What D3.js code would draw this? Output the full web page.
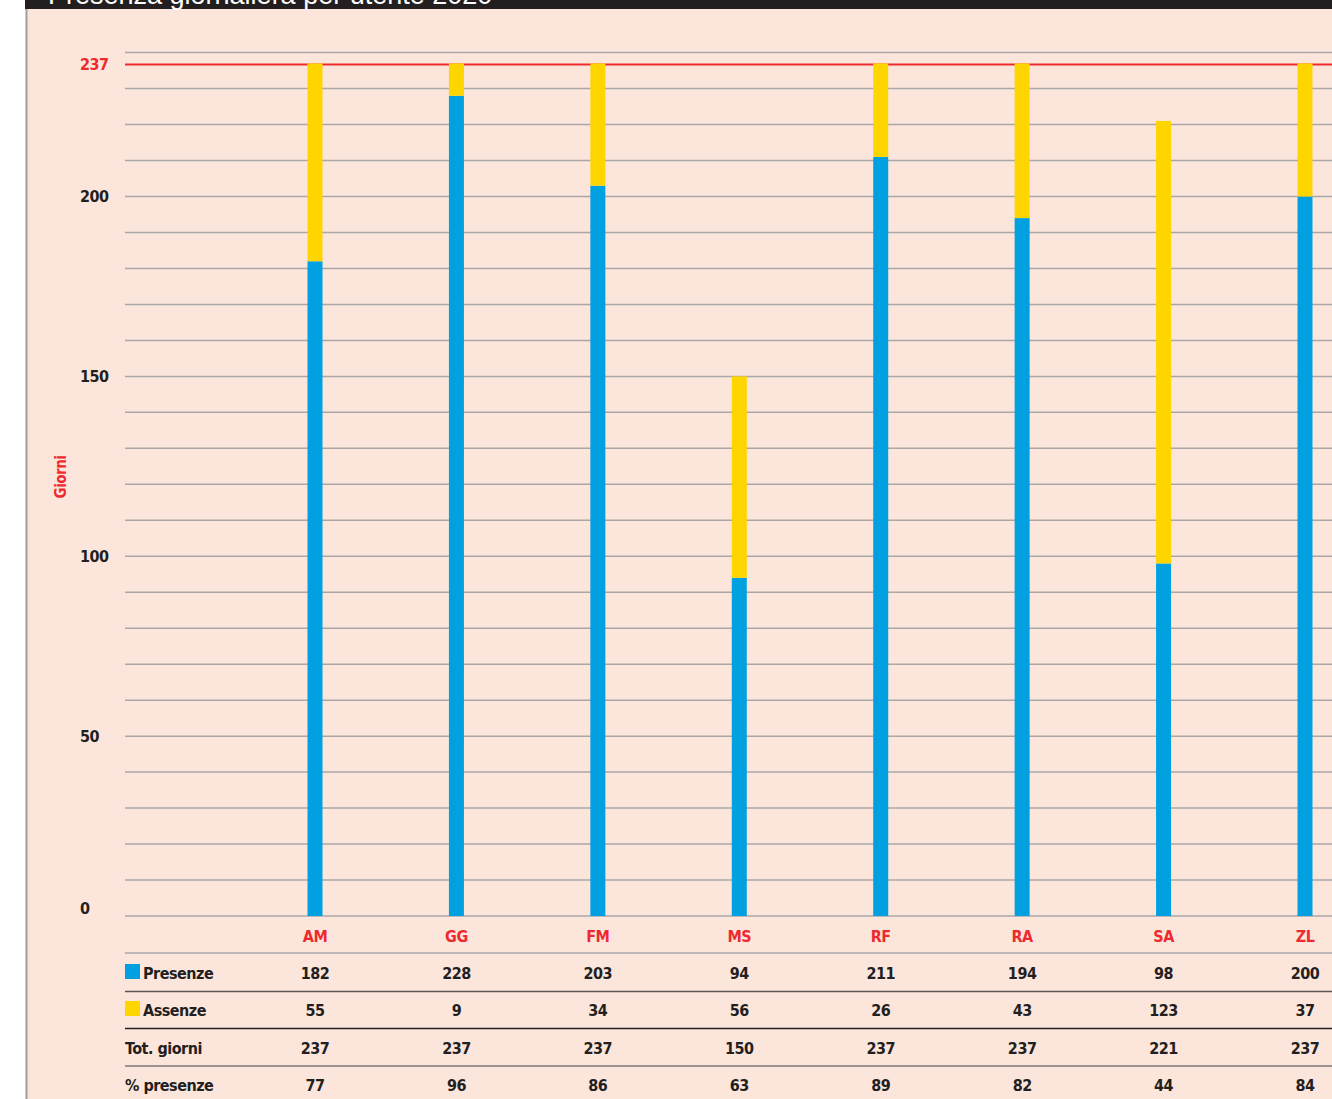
<!DOCTYPE html>
<html>
<head>
<meta charset="utf-8">
<script src="https://cdn.jsdelivr.net/npm/d3@7"></script>
<style>
  body { margin: 0; background: #fff; }
  svg { display: block; }
  text { font-family: "Liberation Sans Narrow", "DejaVu Sans Condensed", "Arial Narrow", sans-serif; font-weight: bold; letter-spacing: -0.5px; }
</style>
</head>
<body>
<svg id="chart"></svg>
<script>
// dati
var utenti = ["AM", "GG", "FM", "MS", "RF", "RA", "SA", "ZL"]
var presenze = [182, 228, 203, 94, 211, 194, 98, 200]
var assenze = [55, 9, 34, 56, 26, 43, 123, 37]
var totGiorni = [237, 237, 237, 150, 237, 237, 221, 237]
var percPresenze = [77, 96, 86, 63, 89, 82, 44, 84]
var yTicks = [0, 50, 100, 150, 200]
var maxGiorni = 237

var width = 1332
var height = 1099
var blu = "#00a0e1"
var giallo = "#ffd500"
var rosso = "#ee2a2f"
var fs = "16px"

var svg = d3.select("#chart").attr("width", width).attr("height", height)

// sfondo e cornice
svg.append("rect").attr("x", 26).attr("y", 0).attr("width", width - 26).attr("height", height).attr("fill", "#fce6dc")
svg.append("line").attr("x1", 26.5).attr("x2", 26.5).attr("y1", 0).attr("y2", height)
  .attr("stroke", "#9d9d9d").attr("stroke-width", 2)
svg.append("rect").attr("x", 25).attr("y", 0).attr("width", width - 25).attr("height", 9).attr("fill", "#231f20")

// titolo (tagliato in alto come nell'originale)
svg.append("text").attr("x", 48).attr("y", 4)
  .style("font-family", "'Liberation Sans', Arial, sans-serif").style("font-weight", "normal")
  .style("letter-spacing", "0px")
  .style("font-size", "27px").attr("fill", "#fff")
  .text("Presenza giornaliera per utente 2020")

var x = d3.scalePoint().domain(utenti).range([315, 1305])
var y = d3.scaleLinear().domain([0, 240]).range([916, 52.6])

// griglia ogni 10 giorni
svg.append("g")
  .selectAll("line")
  .data(d3.range(0, 241, 10))
  .join("line")
  .attr("x1", 125).attr("x2", width)
  .attr("y1", d => y(d)).attr("y2", d => y(d))
  .attr("stroke", "#a9a7a8").attr("stroke-width", 1.5)

// linea dei 237 giorni
svg.append("line")
  .attr("x1", 125).attr("x2", width)
  .attr("y1", y(maxGiorni) + 1).attr("y2", y(maxGiorni) + 1)
  .attr("stroke", rosso).attr("stroke-width", 2)

// etichette asse y
svg.append("g")
  .selectAll("text")
  .data(yTicks)
  .join("text")
  .attr("x", 80)
  .attr("y", d => d == 0 ? y(d) - 8 : y(d))
  .attr("dy", "0.35em")
  .style("font-size", fs)
  .attr("fill", "#231f20")
  .text(d => d)

svg.append("text").attr("x", 80).attr("y", y(maxGiorni) + 1).attr("dy", "0.35em")
  .style("font-size", fs).attr("fill", rosso).text(maxGiorni)

svg.append("text")
  .attr("transform", "translate(66," + 477 + ") rotate(-90)")
  .attr("text-anchor", "middle")
  .style("font-size", "15px").attr("fill", rosso)
  .text("Giorni")

// barre impilate
var barW = 15
var bars = svg.append("g")
bars.selectAll("rect.pres")
  .data(utenti)
  .join("rect")
  .attr("class", "pres")
  .attr("x", d => x(d) - barW / 2)
  .attr("width", barW)
  .attr("y", (d, i) => y(presenze[i]))
  .attr("height", (d, i) => y(0) - y(presenze[i]))
  .attr("fill", blu)

bars.selectAll("rect.ass")
  .data(utenti)
  .join("rect")
  .attr("class", "ass")
  .attr("x", d => x(d) - barW / 2)
  .attr("width", barW)
  .attr("y", (d, i) => y(presenze[i] + assenze[i]))
  .attr("height", (d, i) => y(presenze[i]) - y(presenze[i] + assenze[i]))
  .attr("fill", giallo)

// tabella sotto il grafico
svg.append("g")
  .selectAll("text")
  .data(utenti)
  .join("text")
  .attr("x", d => x(d)).attr("y", 936).attr("dy", "0.35em")
  .attr("text-anchor", "middle")
  .style("font-size", fs).attr("fill", rosso)
  .text(d => d)

var righe = [
  { nome: "Presenze", valori: presenze, y: 973, colore: blu },
  { nome: "Assenze", valori: assenze, y: 1010, colore: giallo },
  { nome: "Tot. giorni", valori: totGiorni, y: 1048 },
  { nome: "% presenze", valori: percPresenze, y: 1085 }
]
var separatori = [
  { y: 953, colore: "#a9a7a8" },
  { y: 991.5, colore: "#5a5455" },
  { y: 1028.5, colore: "#231f20" },
  { y: 1066, colore: "#7d7677" }
]

svg.append("g")
  .selectAll("line")
  .data(separatori)
  .join("line")
  .attr("x1", 125).attr("x2", width)
  .attr("y1", d => d.y).attr("y2", d => d.y)
  .attr("stroke", d => d.colore).attr("stroke-width", 1.5)

righe.forEach(r => {
  var g = svg.append("g")
  if (r.colore) {
    g.append("rect").attr("x", 125).attr("y", r.y - 9).attr("width", 15).attr("height", 15).attr("fill", r.colore)
  }
  g.append("text")
    .attr("x", r.colore ? 143 : 125).attr("y", r.y).attr("dy", "0.35em")
    .style("font-size", fs).attr("fill", "#231f20")
    .text(r.nome)
  g.selectAll("text.val")
    .data(r.valori)
    .join("text")
    .attr("class", "val")
    .attr("x", (d, i) => x(utenti[i])).attr("y", r.y).attr("dy", "0.35em")
    .attr("text-anchor", "middle")
    .style("font-size", fs).attr("fill", "#231f20")
    .text(d => d)
})
</script>
</body>
</html>
